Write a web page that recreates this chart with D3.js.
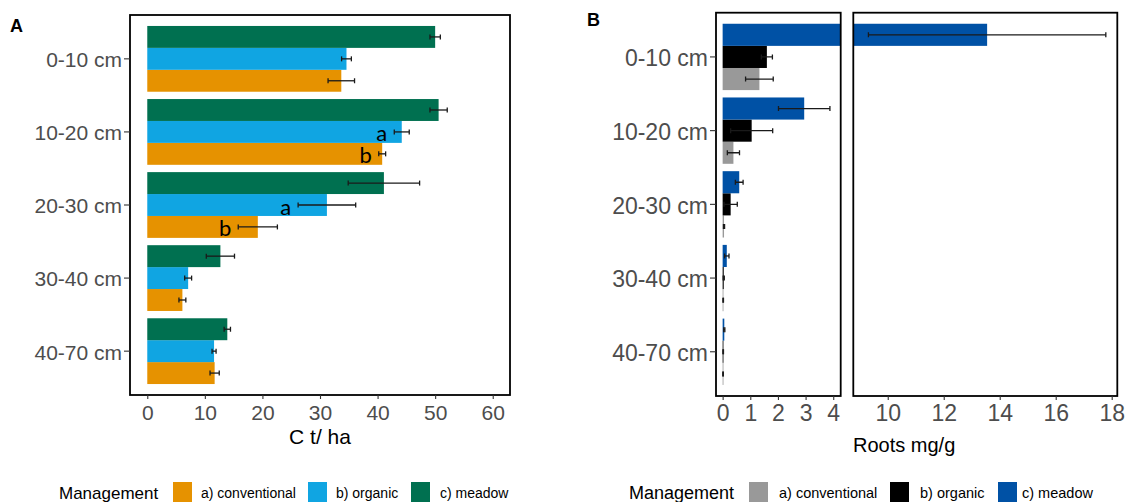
<!DOCTYPE html>
<html>
<head>
<meta charset="utf-8">
<script src="https://cdn.jsdelivr.net/npm/d3@7"></script>
<style>
  html, body { margin: 0; padding: 0; background: #fff; }
  svg { display: block; font-family: "Liberation Sans", Arial, sans-serif; }
</style>
</head>
<body>
<svg id="chart" width="1132" height="502"></svg>
<script>
// ---------- DATA ----------
const depths = ["0-10 cm", "10-20 cm", "20-30 cm", "30-40 cm", "40-70 cm"];
const management = ["a) conventional", "b) organic", "c) meadow"];

// Panel A: soil carbon, C t/ha
const carbonConventional   = [33.7, 40.8, 19.2, 6.1, 11.7];
const carbonConventionalSE = [2.3, 0.6, 3.4, 0.6, 0.8];
const carbonOrganic        = [34.6, 44.2, 31.2, 7.1, 11.6];
const carbonOrganicSE      = [0.85, 1.3, 5.0, 0.6, 0.35];
const carbonMeadow         = [50.0, 50.6, 41.1, 12.7, 13.9];
const carbonMeadowSE       = [0.9, 1.5, 6.2, 2.45, 0.55];
const carbonLettersConventional = ["", "b", "b", "", ""];
const carbonLettersOrganic      = ["", "a", "a", "", ""];
const carbonTicks = [0, 10, 20, 30, 40, 50, 60];

// Panel B: roots, mg/g
const rootsConventional   = [1.33, 0.39, 0.05, 0.02, 0.015];
const rootsConventionalSE = [0.5, 0.22, 0.02, 0.01, 0.01];
const rootsOrganic        = [1.6, 1.05, 0.29, 0.04, 0.02];
const rootsOrganicSE      = [0.2, 0.76, 0.24, 0.02, 0.01];
const rootsMeadow         = [13.55, 2.95, 0.6, 0.15, 0.06];
const rootsMeadowSE       = [4.24, 0.93, 0.14, 0.08, 0.02];
const rootsTicksLow  = [0, 1, 2, 3, 4];
const rootsTicksHigh = [10, 12, 14, 16, 18];

const coloursA = ["#E69200", "#10A5E2", "#007050"];
const coloursB = ["#999999", "#000000", "#0051A5"];

// ---------- HELPERS ----------
function buildRows(vals, ses, letters) {
  const rows = [];
  depths.forEach((d, i) => {
    management.forEach((m, j) => {
      rows.push({ depth: d, mgmt: m, value: vals[j][i], se: ses[j][i],
                  letter: letters ? letters[j][i] : "" });
    });
  });
  return rows;
}

const rowsA = buildRows(
  [carbonConventional, carbonOrganic, carbonMeadow],
  [carbonConventionalSE, carbonOrganicSE, carbonMeadowSE],
  [carbonLettersConventional, carbonLettersOrganic, ["", "", "", "", ""]]);
const rowsB = buildRows(
  [rootsConventional, rootsOrganic, rootsMeadow],
  [rootsConventionalSE, rootsOrganicSE, rootsMeadowSE], null);

const svg = d3.select("#chart");
let clipId = 0;

function drawSubPanel(g, rows, x, y, sub, colour, frame, opts) {
  const id = "clip" + (clipId++);
  svg.append("defs").append("clipPath").attr("id", id)
    .append("rect").attr("x", frame.x0).attr("y", frame.y0)
    .attr("width", frame.x1 - frame.x0).attr("height", frame.y1 - frame.y0);
  const inner = g.append("g").attr("clip-path", `url(#${id})`);
  const bw = sub.bandwidth();
  inner.selectAll("rect.bar").data(rows).join("rect")
    .attr("class", "bar")
    .attr("x", d => Math.min(x(0), x(d.value)))
    .attr("y", d => y(d.depth) + sub(d.mgmt))
    .attr("width", d => Math.max(0.8, Math.abs(x(d.value) - x(0))))
    .attr("height", bw)
    .attr("fill", d => colour(d.mgmt));
  const eb = inner.selectAll("g.err").data(rows).join("g").attr("class", "err")
    .attr("transform", d => `translate(0,${y(d.depth) + sub(d.mgmt) + bw / 2})`);
  eb.append("line")
    .attr("x1", d => x(d.value - d.se)).attr("x2", d => x(d.value + d.se))
    .attr("stroke", "#1a1a1a").attr("stroke-width", 1.3);
  [-1, 1].forEach(s => {
    eb.append("line")
      .attr("x1", d => x(d.value + s * d.se)).attr("x2", d => x(d.value + s * d.se))
      .attr("y1", -2.5).attr("y2", 2.5)
      .attr("stroke", "#1a1a1a").attr("stroke-width", 1.3);
  });
  if (opts && opts.letters) {
    inner.selectAll("text.letter").data(rows.filter(d => d.letter)).join("text")
      .attr("class", "letter")
      .attr("x", d => x(d.value - d.se) - 7)
      .attr("y", d => y(d.depth) + sub(d.mgmt) + bw / 2 + 1)
      .attr("text-anchor", "end").attr("dominant-baseline", "central")
      .attr("font-family", "Lato, 'Open Sans', sans-serif")
      .attr("font-size", 22).attr("fill", "#000")
      .text(d => d.letter);
  }
  // frame
  g.append("rect").attr("x", frame.x0).attr("y", frame.y0)
    .attr("width", frame.x1 - frame.x0).attr("height", frame.y1 - frame.y0)
    .attr("fill", "none").attr("stroke", "#000").attr("stroke-width", 1.8);
}

function xAxis(g, x, ticks, yPos, fontSize) {
  const ax = g.append("g").attr("transform", `translate(0,${yPos})`)
    .call(d3.axisBottom(x).tickValues(ticks).tickFormat(d3.format("d"))
      .tickSize(4).tickPadding(6).tickSizeOuter(0));
  ax.select(".domain").remove();
  ax.selectAll(".tick line").attr("stroke", "#333").attr("stroke-width", 1.1);
  ax.selectAll(".tick text").attr("font-size", fontSize).attr("fill", "#4d4d4d")
    .attr("font-family", "'Liberation Sans', Arial, sans-serif");
  return ax;
}

function yAxis(g, y, xPos, fontSize) {
  const ax = g.append("g").attr("transform", `translate(${xPos},0)`)
    .call(d3.axisLeft(y).tickSize(6).tickPadding(2).tickSizeOuter(0));
  ax.select(".domain").remove();
  ax.selectAll(".tick line").attr("stroke", "#333").attr("stroke-width", 1.1);
  ax.selectAll(".tick text").attr("font-size", fontSize).attr("fill", "#4d4d4d")
    .attr("font-family", "'Liberation Sans', Arial, sans-serif").attr("dy", "0.4em");
  return ax;
}

function legend(g, x0, colours, pos, fontTitle, fontLab, yTop) {
  g.append("text").attr("x", x0).attr("y", yTop + 17)
    .attr("font-size", fontTitle).attr("fill", "#000").text("Management");
  management.forEach((m, i) => {
    g.append("rect").attr("x", pos[i][0]).attr("y", yTop).attr("width", 19).attr("height", 20)
      .attr("fill", colours[i]);
    g.append("text").attr("x", pos[i][1]).attr("y", yTop + 16)
      .attr("font-size", fontLab).attr("fill", "#000").text(m);
  });
}

// ---------- PANEL A ----------
{
  const frame = { x0: 130, x1: 510, y0: 15, y1: 395 };
  const g = svg.append("g");
  const x = d3.scaleLinear().domain([-3, 63]).range([frame.x0, frame.x1]);
  const y = d3.scaleBand().domain(depths).range([frame.y0, frame.y1])
    .paddingInner(0.1).paddingOuter(0.15);
  const sub = d3.scaleBand().domain(management.slice().reverse()).range([0, y.bandwidth()]);
  const colour = d3.scaleOrdinal().domain(management).range(coloursA);
  drawSubPanel(g, rowsA, x, y, sub, colour, frame, { letters: true });
  yAxis(g, y, frame.x0, 21);
  xAxis(g, x, carbonTicks, frame.y1, 21);
  g.append("text").attr("x", (frame.x0 + frame.x1) / 2).attr("y", 444)
    .attr("text-anchor", "middle").attr("font-size", 21).attr("fill", "#000").text("C t/ ha");
  g.append("text").attr("x", 10).attr("y", 32).attr("font-size", 18)
    .attr("font-weight", "bold").attr("fill", "#000").text("A");
  legend(g, 59, coloursA, [[173, 201], [308, 336], [411, 440]], 17, 14, 482);
}

// ---------- PANEL B ----------
{
  const frameL = { x0: 716, x1: 840.7, y0: 12.7, y1: 396 };
  const frameR = { x0: 853.3, x1: 1117.3, y0: 12.7, y1: 396 };
  const g = svg.append("g");
  const xL = d3.scaleLinear().domain([-0.24, 4.27]).range([frameL.x0, frameL.x1]);
  const xR = d3.scaleLinear().domain([8.77, 18.2]).range([frameR.x0, frameR.x1]);
  const y = d3.scaleBand().domain(depths).range([frameL.y0, frameL.y1])
    .paddingInner(0.1).paddingOuter(0.15);
  const sub = d3.scaleBand().domain(management.slice().reverse()).range([0, y.bandwidth()]);
  const colour = d3.scaleOrdinal().domain(management).range(coloursB);
  drawSubPanel(g, rowsB, xL, y, sub, colour, frameL, null);
  drawSubPanel(g, rowsB, xR, y, sub, colour, frameR, null);
  yAxis(g, y, frameL.x0, 23);
  xAxis(g, xL, rootsTicksLow, frameL.y1, 23).selectAll(".tick text").attr("dy", "0.65em");
  xAxis(g, xR, rootsTicksHigh, frameR.y1, 23).selectAll(".tick text").attr("dy", "0.65em");
  g.append("text").attr("x", 853).attr("y", 452)
    .attr("font-size", 20).attr("fill", "#000").text("Roots mg/g");
  g.append("text").attr("x", 587).attr("y", 26).attr("font-size", 18)
    .attr("font-weight", "bold").attr("fill", "#000").text("B");
  legend(g, 629, coloursB, [[749, 779], [890, 920], [998, 1022]], 18, 14.5, 482);
}
</script>
</body>
</html>
